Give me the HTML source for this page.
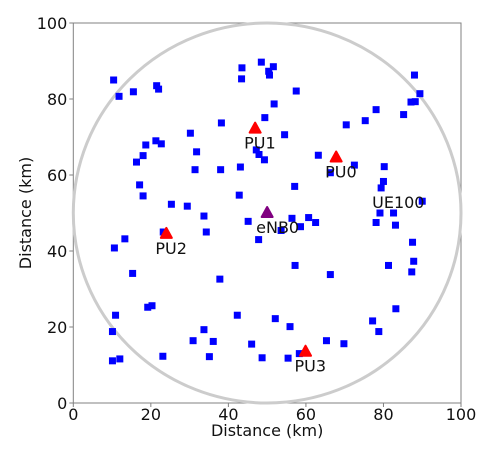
<!DOCTYPE html>
<html><head><meta charset="utf-8"><style>
body{margin:0;background:#fff;}
svg text{font-family:"DejaVu Sans","Liberation Sans",sans-serif;fill:#111;}
</style></head><body>
<svg id="chart" width="493" height="454" viewBox="0 0 493 454" xmlns="http://www.w3.org/2000/svg">
<g id="axes"></g>
<g id="marks"></g>
</svg>
<script>
const ueX=[10.4,11.8,15.5,21.5,22.0,43.5,43.4,48.5,50.4,51.6,50.6,49.4,38.2,30.2,18.7,21.3,22.7,31.8,18.0,16.3,47.2,47.9,49.3,31.4,38.0,43.1,17.1,18.0,42.8,25.3,29.4,57.5,51.8,88.0,89.4,87.1,88.2,78.1,85.2,75.3,70.4,54.5,63.2,72.5,66.3,80.2,80.0,79.4,57.1,90.0,79.1,82.6,33.7,45.1,34.3,23.2,13.3,10.6,47.8,15.3,37.8,19.2,20.3,10.9,42.3,10.1,33.7,30.9,36.1,46.0,10.1,12.0,23.1,35.1,48.7,56.4,60.7,62.5,58.6,53.6,78.1,83.1,87.5,57.2,81.3,87.8,87.3,66.3,83.2,52.1,77.2,55.9,78.8,65.3,69.8,55.4,58.3];
const ueY=[85.0,80.7,81.9,83.5,82.6,88.2,85.3,89.7,87.3,88.5,86.3,75.1,73.7,71.0,67.9,69.0,68.2,66.1,65.1,63.4,66.6,65.4,64.0,61.4,61.4,62.1,57.4,54.5,54.7,52.3,51.8,82.1,78.7,86.3,81.4,79.2,79.3,77.2,75.9,74.3,73.2,70.6,65.2,62.6,60.6,62.2,58.3,56.6,57.0,53.1,50.0,50.0,49.2,47.8,45.0,45.0,43.2,40.8,43.0,34.1,32.6,25.2,25.6,23.1,23.1,18.8,19.3,16.4,16.2,15.5,11.1,11.6,12.3,12.2,11.9,48.6,48.8,47.5,46.4,45.4,47.5,46.8,42.3,36.2,36.2,37.3,34.5,33.8,24.8,22.2,21.6,20.1,18.8,16.4,15.6,11.8,13.0];
const puNames=["PU0","PU1","PU2","PU3"];
const puX=[67.8,46.9,24.0,59.9];
const puY=[64.6,72.2,44.5,13.5];
const bsNames=["eNB0"];
const bsX=[50];
const bsY=[50];
const ueLabelIdx=47; // UE100 label anchor
const ticks=[0,20,40,60,80,100];
const coverageR=50;

const NS="http://www.w3.org/2000/svg";
const L=73.3,R=461,T=23,B=403;
const sx=v=>L+(v/100)*(R-L);
const sy=v=>B-(v/100)*(B-T);
function mk(tag,attrs,parent,txt){const e=document.createElementNS(NS,tag);for(const k in attrs)e.setAttribute(k,attrs[k]);if(txt!==undefined)e.textContent=txt;parent.appendChild(e);return e;}
const axes=document.getElementById('axes'),marks=document.getElementById('marks');

// coverage circle
let c=mk('ellipse',{cx:sx(bsX[0]),cy:sy(bsY[0]),rx:sx(coverageR)-sx(0),ry:sy(0)-sy(coverageR),fill:'none',stroke:'#cccccc','stroke-width':3},marks);



// UEs
ueX.forEach((x,i)=>{
 const s=mk('rect',{x:sx(x)-3.5,y:sy(ueY[i])-3.5,width:7,height:7,fill:'#0000ff'},marks);
 
 
});
let ul=mk('text',{x:sx(ueX[ueLabelIdx])-9,y:sy(ueY[ueLabelIdx])+20,'font-size':16},marks,'UE100');



function tri(x,y,col,name){
 const px=sx(x),py=sy(y);
 const t=mk('path',{d:`M${px},${py-6} L${px+5.5},${py+4} L${px-5.5},${py+4} Z`,fill:col,stroke:col,'stroke-width':2,'stroke-linejoin':'round'},marks);
 
 
}
puX.forEach((x,i)=>{
 tri(x,puY[i],'#ff0000','pu-marker');
 const t=mk('text',{x:sx(x)-11,y:sy(puY[i])+20,'font-size':16},marks,puNames[i]);
 
 
});
bsX.forEach((x,i)=>{
 tri(x,bsY[i],'#800080','enb-marker');
 const t=mk('text',{x:sx(x)-11,y:sy(bsY[i])+20,'font-size':16},marks,bsNames[i]);
 
 
});

// frame
let f=mk('rect',{x:L,y:T,width:R-L,height:B-T,fill:'none',stroke:'#808080','stroke-width':1},axes);


ticks.forEach(v=>{
 let a=mk('line',{x1:sx(v),x2:sx(v),y1:B,y2:B+4,stroke:'#808080'},axes);
 
 
 let t=mk('text',{x:sx(v),y:B+17,'font-size':16,'text-anchor':'middle'},axes,String(v));
 
 
 let b=mk('line',{x1:L-4,x2:L,y1:sy(v),y2:sy(v),stroke:'#808080'},axes);
 
 
 let u=mk('text',{x:L-6,y:sy(v)+6,'font-size':16,'text-anchor':'end'},axes,String(v));
 
 
});
let xt=mk('text',{x:(L+R)/2,y:436,'font-size':16,'text-anchor':'middle'},axes,'Distance (km)');


let yt=mk('text',{x:0,y:0,'font-size':16,'text-anchor':'middle',transform:`translate(31,${(T+B)/2}) rotate(-90)`},axes,'Distance (km)');


</script>
</body></html>
